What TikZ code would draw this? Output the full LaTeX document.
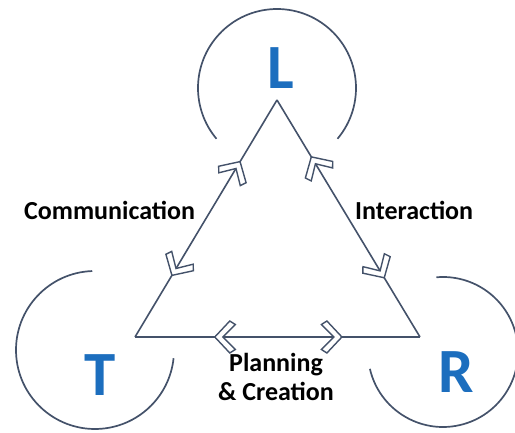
\documentclass[tikz,border=0pt]{standalone}
\usepackage{fontspec}
\setmainfont{Carlito}
\usetikzlibrary{calc}
\definecolor{rim}{RGB}{68,82,106}
\definecolor{letterblue}{RGB}{28,110,190}
\begin{document}
\begin{tikzpicture}[x=1pt,y=1pt,
  rimline/.style={draw=rim, line width=1.7pt},
  edge/.style={draw=rim, line width=1.6pt, line join=miter},
  chevshape/.style={draw=rim, fill=white, line width=1.4pt, line join=miter},
  letter/.style={text=letterblue, font=\fontsize{63}{70}\selectfont\bfseries, inner sep=0pt},
  caption/.style={text=black, font=\fontsize{26}{30}\selectfont\bfseries, inner sep=0pt},
  chevf/.pic={\path[chevshape] (0,0) -- (-15,16) -- (-20.5,12.5) -- (-8,0) -- (-20.5,-12.5) -- (-15,-16) -- cycle;},
  chevb/.pic={\path[chevshape] (0,0) -- (15,16) -- (20.5,12.5) -- (8,0) -- (20.5,-12.5) -- (15,-16) -- cycle;},
  marked/.style={sloped, allow upside down}
]
\useasboundingbox (0,0) rectangle (515,432);
\clip (0,0) rectangle (515,432);

% corners of the triangle
\coordinate (cL) at (277,332);
\coordinate (cT) at (135,95);
\coordinate (cR) at (420,95);

% open circles around the three letters
\coordinate (oL) at (277,344);
\coordinate (oT) at (95,82);
\coordinate (oR) at (443,80);
\draw[rimline] ($(oL)+(-40:79)$) arc[start angle=-40, end angle=220, radius=79];
\draw[rimline] ($(oT)+(92:79)$) arc[start angle=92, end angle=354, radius=79];
\draw[rimline] ($(oR)+(-167:75)$) arc[start angle=-167, end angle=95, radius=75];

% letters
\node[letter] (L) at (281,364) {L};
\node[letter] (T) at (100,57) {T};
\node[letter] (R) at (456,60) {R};

% triangle edges with double chevrons
\path[edge] (cL) -- (cT)
  pic[pos=0.26, marked]{chevb} pic[pos=0.74, marked]{chevf};
\path[edge] (cL) -- (cR)
  pic[pos=0.24, marked]{chevb} pic[pos=0.75, marked]{chevf};
\path[edge] (cT) -- (cR)
  pic[pos=0.28, marked]{chevb} pic[pos=0.726, marked]{chevf};

% edge captions
\node[caption, anchor=base west] (comm) at (24,212) {Communication};
\node[caption, anchor=base west] (inter) at (355,212) {Interaction};
\node[caption, anchor=base] (plan) at (276,61) {Planning};
\node[caption, anchor=base] (create) at (276,31) {\& Creation};
\end{tikzpicture}
\end{document}
